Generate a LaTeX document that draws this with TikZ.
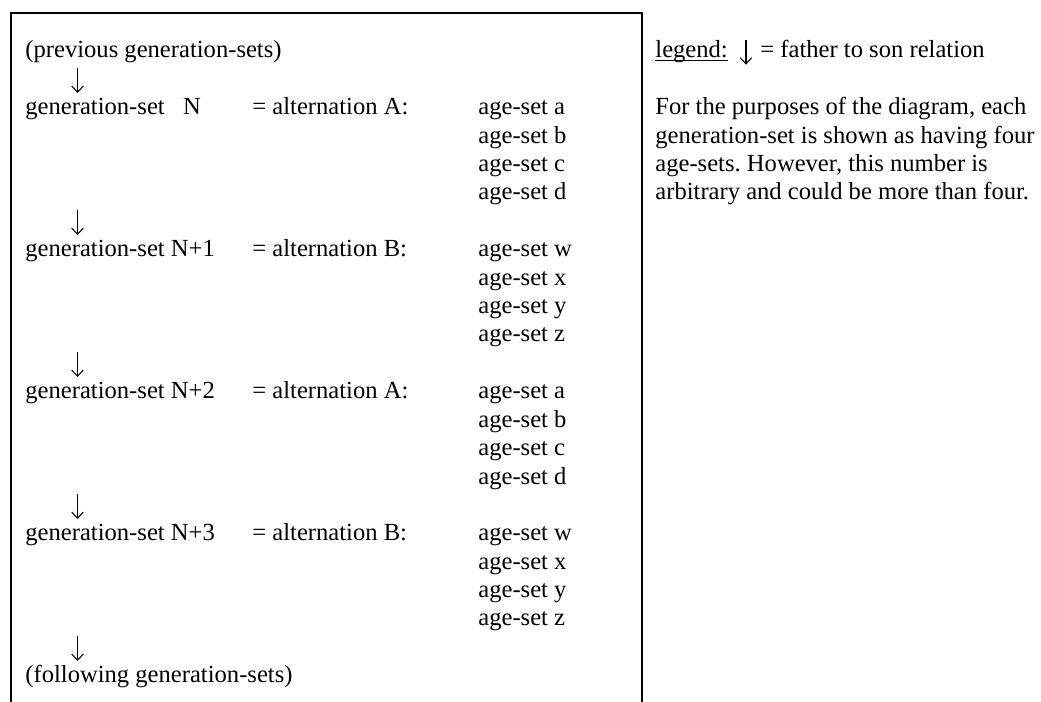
\documentclass[tikz,border=0pt]{standalone}
\usepackage{fontspec}
\setmainfont{Liberation Serif}
\usetikzlibrary{arrows.meta}
\newcommand\ulword[1]{\setbox0\hbox{#1}\rlap{\rule[-1.4pt]{\wd0}{0.6pt}}\box0}
\begin{document}
\frenchspacing
\begin{tikzpicture}[x=0.4878pt,y=-0.4878pt,
  txt/.style={anchor=base west, inner sep=0pt, font=\fontsize{12}{13.8}\selectfont},
  frame/.style={line width=1pt},
  rel/.style={line width=0.5pt, -{Straight Barb[length=3pt,width=5.6pt]}}]
\useasboundingbox (0,0) rectangle (1041,702);
\coordinate (bl) at (11,702);
\coordinate (tl) at (11,13);
\coordinate (tr) at (642,13);
\coordinate (br) at (642,702);
\draw[frame] (bl) -- (tl) -- (tr) -- (br);
% left column
\node[txt] (prev) at (25,58) {(previous generation-sets)};
\node[txt] (g0) at (25,114.8) {generation-set\ \ \ N};
\node[txt] (g0alt) at (252,114.8) {= alternation A:};
\node[txt] (g0a) at (478,114.8) {age-set a};
\node[txt] (g0b) at (478,143.2) {age-set b};
\node[txt] (g0c) at (478,171.6) {age-set c};
\node[txt] (g0d) at (478,200) {age-set d};
\node[txt] (g1) at (25,256.8) {generation-set N+1};
\node[txt] (g1alt) at (252,256.8) {= alternation B:};
\node[txt] (g1w) at (478,256.8) {age-set w};
\node[txt] (g1x) at (478,285.2) {age-set x};
\node[txt] (g1y) at (478,313.6) {age-set y};
\node[txt] (g1z) at (478,342) {age-set z};
\node[txt] (g2) at (25,398.8) {generation-set N+2};
\node[txt] (g2alt) at (252,398.8) {= alternation A:};
\node[txt] (g2a) at (478,398.8) {age-set a};
\node[txt] (g2b) at (478,427.2) {age-set b};
\node[txt] (g2c) at (478,455.6) {age-set c};
\node[txt] (g2d) at (478,484) {age-set d};
\node[txt] (g3) at (25,540.8) {generation-set N+3};
\node[txt] (g3alt) at (252,540.8) {= alternation B:};
\node[txt] (g3w) at (478,540.8) {age-set w};
\node[txt] (g3x) at (478,569.2) {age-set x};
\node[txt] (g3y) at (478,597.6) {age-set y};
\node[txt] (g3z) at (478,626) {age-set z};
\node[txt] (foll) at (25,682.8) {(following generation-sets)};
% father-to-son arrows
\coordinate (a1s) at (77.5,68.4);  \coordinate (a1e) at (77.5,93);
\coordinate (a2s) at (77.5,210.4); \coordinate (a2e) at (77.5,235);
\coordinate (a3s) at (77.5,352.4); \coordinate (a3e) at (77.5,377);
\coordinate (a4s) at (77.5,494.4); \coordinate (a4e) at (77.5,519);
\coordinate (a5s) at (77.5,636.4); \coordinate (a5e) at (77.5,661);
\draw[rel] (a1s) -- (a1e);
\draw[rel] (a2s) -- (a2e);
\draw[rel] (a3s) -- (a3e);
\draw[rel] (a4s) -- (a4e);
\draw[rel] (a5s) -- (a5e);
% legend
\node[txt] (leg) at (655,58) {\ulword{legend:}};
\coordinate (las) at (746,40); \coordinate (lae) at (746,64.6);
\draw[rel] (las) -- (lae);
\node[txt] (legtxt) at (760,58) {= father to son relation};
\node[txt] (p1) at (655,114.8) {For the purposes of the diagram, each};
\node[txt] (p2) at (655,143.2) {generation-set is shown as having four};
\node[txt] (p3) at (655,171.6) {age-sets. However, this number is};
\node[txt] (p4) at (655,200) {arbitrary and could be more than four.};
\end{tikzpicture}
\end{document}
